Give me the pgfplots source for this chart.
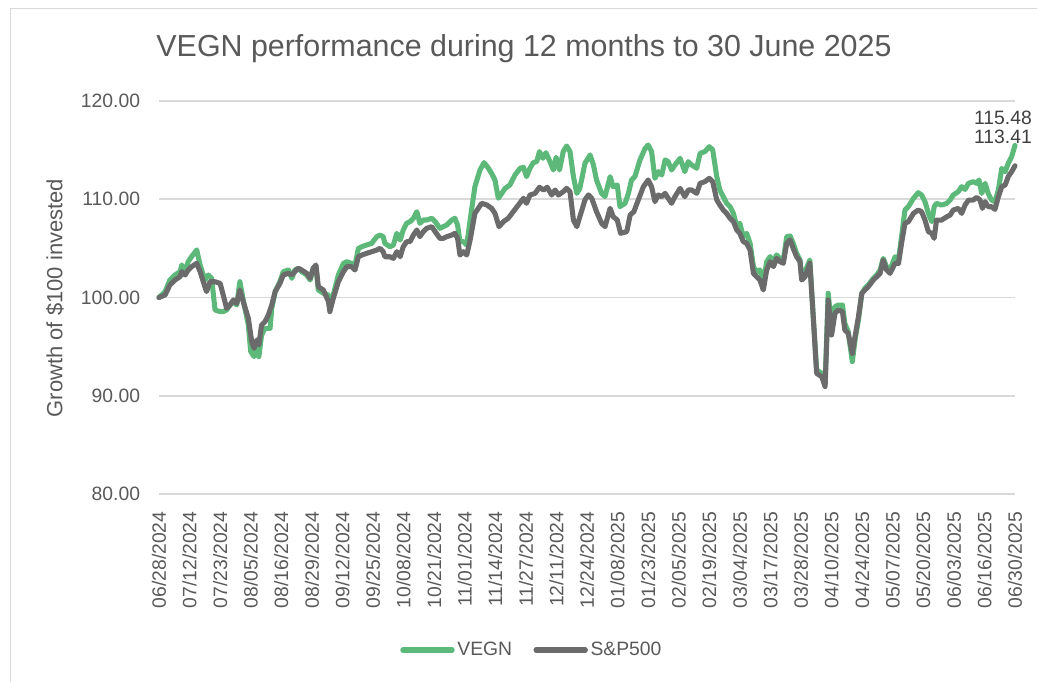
\documentclass[border=0pt]{standalone}
\usepackage{fontspec}
\setmainfont{Liberation Sans}
\usepackage{pgfplots}
\usepackage{pgfplotstable}
\pgfplotsset{compat=1.18}
\definecolor{cVegn}{HTML}{5DB97A}
\definecolor{cSpx}{HTML}{6B6B6B}
\definecolor{cTxt}{HTML}{595959}
\definecolor{cLbl}{HTML}{404040}
\definecolor{cGrid}{HTML}{D9D9D9}

% day index (0 = 06/28/2024, 252 = 06/30/2025), growth of $100
\pgfplotstableread{
x y
0 100.00
1.8 100.60
3.2 101.78
4.7 102.29
6.2 102.63
6.7 103.31
7.7 102.63
8.6 103.65
9.6 104.16
11.1 104.84
12.1 103.31
13.5 101.78
14.5 102.29
15.5 101.95
16.5 98.73
18.0 98.56
18.9 98.56
19.9 98.73
20.9 99.24
21.9 99.58
22.9 99.24
23.8 101.61
24.8 99.75
26.3 97.20
27.0 94.50
28.0 93.98
28.8 94.83
29.4 93.98
30.2 96.18
31.2 96.86
32.7 96.86
33.2 98.90
34.2 100.60
35.6 101.61
36.6 102.63
38.1 102.80
39.1 101.95
40.0 102.80
41.0 102.97
42.0 102.63
43.5 102.29
44.5 101.78
45.4 102.97
46.2 103.14
46.9 100.76
48.4 100.43
49.9 100.25
50.3 98.73
51.3 100.25
52.8 102.29
54.3 103.47
55.3 103.64
56.7 103.47
57.7 103.30
58.7 105.00
59.7 105.17
61.1 105.34
62.6 105.51
64.1 106.19
65.1 106.36
66.0 106.19
66.5 105.51
68.0 105.17
69.0 105.34
70.0 106.53
71.0 105.85
71.9 106.87
72.9 107.55
73.9 107.72
74.9 108.06
75.9 108.73
76.8 107.55
77.8 107.89
78.8 107.89
80.3 108.06
81.3 107.72
82.7 107.04
83.7 107.21
84.7 107.38
86.2 107.89
87.1 108.06
87.9 107.38
88.6 105.68
89.6 105.68
90.6 105.35
91.6 107.89
93.0 111.28
94.5 112.98
95.7 113.73
97.0 113.15
97.9 112.64
98.9 111.96
99.9 110.10
100.9 110.60
101.9 111.11
103.3 111.45
104.8 112.47
106.3 113.15
107.3 113.25
108.2 112.30
109.2 113.15
110.2 113.73
111.2 113.83
112.0 114.85
113.0 114.17
113.9 114.74
115.1 113.83
116.1 112.98
116.9 114.27
117.9 112.98
119.0 114.85
120.0 115.42
121.0 114.85
122.0 112.30
123.0 110.60
123.9 111.11
125.4 113.66
126.9 114.51
127.9 113.49
128.8 111.96
130.3 110.60
131.3 110.27
132.8 112.30
133.7 111.28
134.9 111.45
135.7 109.25
137.2 109.59
138.2 110.60
139.1 111.96
140.1 112.30
141.6 114.00
143.1 115.18
144.0 115.52
145.0 114.85
146.0 112.13
147.0 112.81
148.0 112.47
149.0 114.00
149.9 113.83
150.9 112.98
151.9 113.49
153.4 114.17
154.8 112.81
155.8 113.83
156.8 113.49
158.3 113.15
159.3 114.68
160.7 114.85
162.0 115.35
163.0 115.02
164.2 112.30
165.1 110.94
166.1 110.27
167.1 109.59
168.1 109.25
169.1 108.57
170.1 107.21
171.0 107.55
172.0 106.19
173.0 106.53
174.0 105.52
175.0 103.14
175.9 102.63
176.9 102.80
177.9 101.44
178.9 103.65
179.9 104.16
180.9 103.65
181.8 104.33
182.8 103.99
183.8 103.82
184.8 106.19
185.8 106.26
186.7 105.52
187.7 104.50
188.7 103.82
189.2 102.12
190.2 102.63
191.6 103.82
192.6 98.05
193.6 92.62
195.1 92.28
196.1 91.27
197.0 100.43
198.0 97.03
199.0 99.07
200.0 99.23
201.2 99.23
201.9 97.37
202.9 96.52
204.1 93.47
204.9 95.67
205.9 97.71
206.9 100.42
207.8 100.93
208.8 101.27
210.3 101.95
211.3 102.29
212.3 102.80
213.2 103.98
214.2 103.13
215.2 102.80
216.7 104.15
217.7 103.81
218.6 106.19
219.6 108.90
220.6 109.24
222.1 110.09
223.5 110.67
224.5 110.43
225.5 109.75
226.5 108.56
227.5 107.71
228.2 109.24
228.9 109.58
230.4 109.41
231.9 109.58
232.9 109.92
233.8 110.43
235.3 110.77
236.3 111.28
237.3 111.00
238.3 111.62
239.7 111.79
240.7 111.62
241.4 111.96
242.2 110.60
243.2 111.62
244.1 110.60
245.1 109.92
246.1 109.75
247.1 110.94
248.1 113.14
249.1 112.80
250.0 113.65
251.0 114.33
252 115.48
}\vegndata

\pgfplotstableread{
x y
0 100.00
1.8 100.26
3.2 101.27
4.7 101.78
6.2 102.12
6.7 102.63
7.7 102.29
8.6 102.80
9.6 103.14
11.1 103.48
12.1 102.63
13.5 101.10
14.0 100.60
15.0 101.60
16.5 101.60
18.0 101.44
18.9 100.26
19.9 98.90
20.9 99.24
21.9 99.75
22.9 99.40
23.8 100.76
24.8 99.58
26.3 97.88
27.3 95.50
28.0 94.83
28.8 95.68
29.4 95.17
30.2 97.20
31.2 97.54
32.2 98.22
33.2 99.24
34.2 100.60
35.6 101.44
36.6 102.29
38.1 102.46
39.1 102.29
40.0 102.63
41.0 102.97
42.0 102.80
43.5 102.46
44.5 101.95
45.4 102.97
46.2 103.31
46.9 101.10
48.4 100.76
49.9 99.57
50.3 98.56
51.3 99.91
52.8 101.61
54.3 102.63
55.3 103.14
56.7 103.14
57.7 102.80
58.7 104.15
59.7 104.32
61.1 104.49
62.6 104.66
64.1 104.83
65.1 105.00
66.0 104.66
66.5 104.15
68.0 104.15
69.0 103.98
70.0 104.66
71.0 104.15
71.9 105.17
72.9 105.68
73.9 105.68
74.9 106.36
75.9 106.87
76.8 106.19
77.8 106.70
78.8 107.04
80.3 107.21
81.3 106.70
82.7 106.02
83.7 106.02
84.7 106.19
86.2 106.36
87.1 106.53
87.9 106.02
88.6 104.32
89.6 104.66
90.6 104.33
91.6 105.86
93.0 108.57
95.0 109.59
96.5 109.42
97.9 109.08
98.9 108.57
100.1 107.21
101.4 107.72
102.8 108.06
104.3 108.74
105.8 109.42
107.3 110.10
108.2 109.59
109.2 110.43
110.7 110.60
112.0 111.22
113.2 110.94
114.3 111.22
115.6 110.43
116.6 110.94
117.6 110.43
119.0 110.77
120.0 111.11
121.0 110.77
122.0 107.89
123.0 107.21
123.9 108.23
125.4 109.93
126.4 110.44
127.4 110.10
128.8 108.74
130.3 107.55
131.3 107.21
132.8 109.08
133.7 108.23
134.9 107.89
135.9 106.53
137.7 106.70
138.7 108.40
139.8 108.74
141.1 109.93
142.6 111.28
144.0 111.96
145.0 111.28
146.0 109.76
147.0 110.44
148.0 110.27
149.0 110.60
149.9 110.10
150.9 109.59
151.9 110.27
153.4 111.11
154.8 110.27
155.8 110.94
156.8 110.94
158.3 110.60
159.3 111.62
160.7 111.79
162.0 112.13
163.0 111.79
164.2 109.93
165.1 109.42
166.1 108.91
167.1 108.57
168.1 108.06
169.1 107.72
170.1 106.87
171.0 106.53
172.0 105.69
173.0 105.52
174.0 104.84
175.0 102.46
175.9 102.12
176.9 101.78
177.9 100.77
178.9 102.80
179.9 103.65
180.9 103.14
181.8 103.99
182.8 103.65
183.8 103.48
184.8 105.52
185.8 105.86
186.7 105.00
187.7 104.16
188.7 103.65
189.2 101.78
190.2 102.12
191.6 103.48
192.6 98.05
193.6 92.28
195.1 91.94
196.1 90.93
197.0 99.75
198.0 96.18
199.0 98.39
200.0 98.73
201.2 98.55
201.9 96.69
202.9 96.35
204.1 94.31
204.9 96.01
205.9 98.04
206.9 100.42
207.8 100.76
208.8 101.10
210.3 101.78
211.3 102.12
212.3 102.46
213.2 103.81
214.2 102.80
215.2 102.46
216.7 103.47
217.7 103.47
218.6 105.51
219.6 107.55
220.6 107.71
222.1 108.56
223.5 108.90
224.5 108.73
225.5 107.88
226.5 106.70
227.5 106.53
228.2 106.02
228.9 107.88
230.4 107.88
231.9 108.22
232.9 108.39
233.8 108.90
235.3 109.07
236.3 108.56
237.3 109.41
238.3 109.92
239.7 109.92
240.7 110.19
241.7 109.92
242.4 109.07
243.2 109.75
244.1 109.24
245.1 109.24
246.1 108.97
247.1 110.26
248.1 111.28
249.1 111.45
250.0 112.30
251.0 112.80
252 113.41
}\spxdata

\begin{document}
\begin{tikzpicture}
% page = 1037 x 681 px at 0.75pt per px
\path[use as bounding box] (0pt,0pt) rectangle (777.75pt,510.75pt);
\draw[cGrid, line width=0.9pt] (7.9pt,-2pt) -- (7.9pt,504.4pt) -- (780pt,504.4pt);

\node[text=cTxt, font=\fontsize{22.8}{27}\selectfont] at (393pt,474pt) {VEGN performance during 12 months to 30 June 2025};
\node[text=cTxt, rotate=90, font=\fontsize{16.5}{19}\selectfont] at (41.25pt,287.25pt) {Growth of \$100 invested};

\begin{axis}[
    at={(119.25pt,140.25pt)}, anchor=south west,
    scale only axis,
    width=642pt, height=294.75pt,
    xmin=0, xmax=252,
    ymin=80, ymax=120,
    clip=false,
    xtick={0,9,...,252},
    xticklabels={06/28/2024,07/12/2024,07/23/2024,08/05/2024,08/16/2024,08/29/2024,09/12/2024,09/25/2024,10/08/2024,10/21/2024,11/01/2024,11/14/2024,11/27/2024,12/11/2024,12/24/2024,01/08/2025,01/23/2025,02/05/2025,02/19/2025,03/04/2025,03/17/2025,03/28/2025,04/10/2025,04/24/2025,05/07/2025,05/20/2025,06/03/2025,06/16/2025,06/30/2025},
    ytick={80,90,...,120},
    ymajorgrids=true,
    major grid style={cGrid, line width=1.2pt},
    axis line style={draw=none},
    major tick length=0pt,
    /pgf/number format/assume math mode=true,
    yticklabel style={/pgf/number format/fixed, /pgf/number format/fixed zerofill,
        /pgf/number format/precision=2, inner sep=0pt, xshift=-14pt},
    xticklabel style={rotate=90, anchor=east, inner sep=0pt},
    xticklabel shift=13pt,
    tick label style={text=cTxt, font=\fontsize{14.5}{17}\selectfont},
    legend style={at={(0.436,-0.397)}, anchor=center, draw=none, fill=none,
        legend columns=2, font=\fontsize{14.5}{17}\selectfont, text=cTxt,
        /tikz/every even column/.append style={column sep=14pt}},
    legend image code/.code={\draw[#1] (0pt,0pt) -- (37pt,0pt);},
    every axis plot/.append style={line width=3.8pt, line join=round, line cap=round, mark=none},
]
\addplot[cVegn] table[x=x, y=y] {\vegndata}
    node[pos=1, text=cLbl, font=\fontsize{14.5}{17}\selectfont, xshift=-9pt, yshift=21pt] {115.48};
\addplot[cSpx] table[x=x, y=y] {\spxdata}
    node[pos=1, text=cLbl, font=\fontsize{14.5}{17}\selectfont, xshift=-9pt, yshift=22pt] {113.41};
\legend{VEGN, S\&P500}
\end{axis}
\end{tikzpicture}
\end{document}
